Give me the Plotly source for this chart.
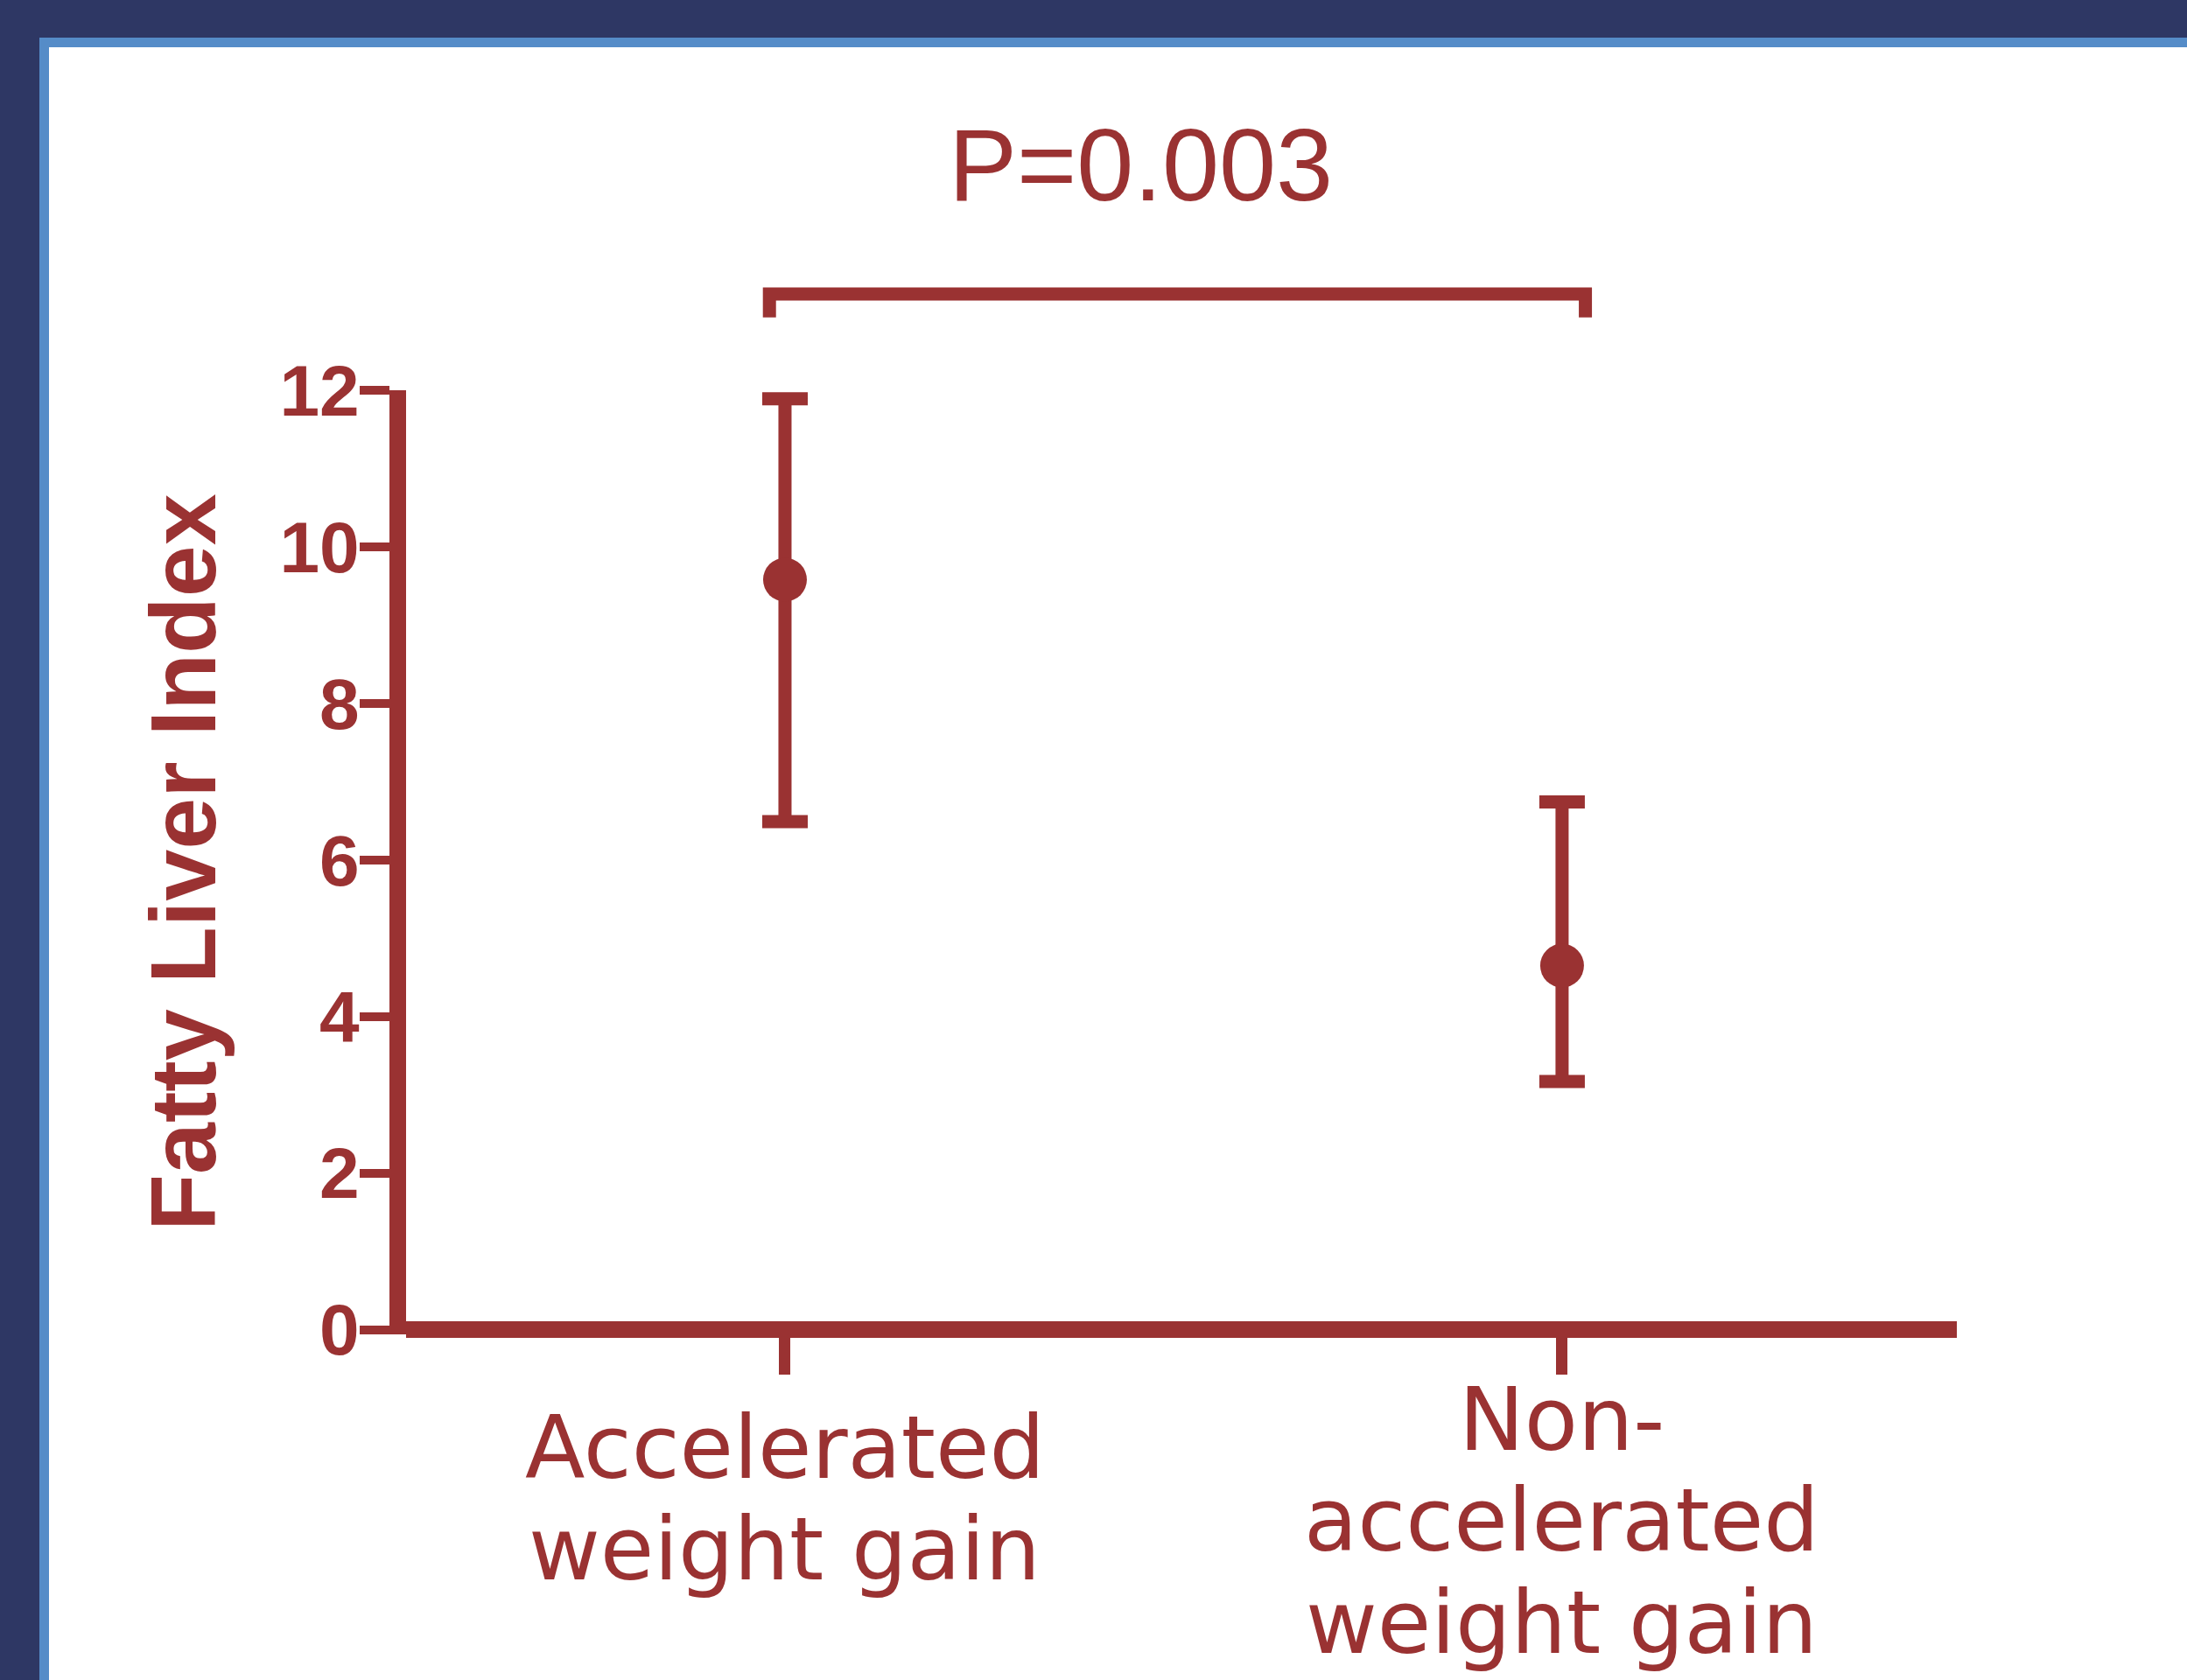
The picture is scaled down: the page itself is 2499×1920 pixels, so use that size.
import plotly.graph_objects as go

# ---- data ----
categories = ["Accelerated weight gain", "Non-accelerated weight gain"]
category_label_lines = [["Accelerated", "weight gain"], ["Non-", "accelerated", "weight gain"]]
center_values = [9.58, 4.65]
upper_values = [11.89, 6.74]
lower_values = [6.49, 3.17]
y_tick_values = [0, 2, 4, 6, 8, 10, 12]
p_label = "P=0.003"
bracket_level = 13.23
bracket_leg_end = 12.93

# ---- layout constants ----
W, H = 2499, 1920
L, R, T, B = 464, 263, 446, 395
Y_MIN, Y_MAX = -0.06, 12
X_MIN, X_MAX = -0.4876, 1.508
RED = "#9A3232"
NAVY = "#2E3764"
BLUE = "#558CC8"
LABEL_FIRST_LINE_MID = [1654, 1622]   # px (vertical centre of first label line)
LABEL_LINE_GAP = 116                  # px

PW = W - L - R
PH = H - T - B


def px_x(px):
    return (px - L) / PW


def px_y(py):
    return (H - B - py) / PH


def data_y(v):
    return (v - Y_MIN) / (Y_MAX - Y_MIN)


err_plus = [u - c for u, c in zip(upper_values, center_values)]
err_minus = [c - l for c, l in zip(center_values, lower_values)]

fig = go.Figure()
fig.add_trace(go.Scatter(
    x=categories,
    y=center_values,
    mode="markers",
    marker=dict(size=50, color=RED, symbol="circle", line=dict(width=0)),
    error_y=dict(type="data", symmetric=False, array=err_plus, arrayminus=err_minus,
                 color=RED, thickness=15, width=26),
    showlegend=False,
    cliponaxis=False,
))

shapes = [
    dict(type="rect", xref="paper", yref="paper", x0=px_x(-10), x1=px_x(W + 10), y0=px_y(H + 10), y1=px_y(-10),
         fillcolor=NAVY, line=dict(width=0), layer="below"),
    dict(type="rect", xref="paper", yref="paper", x0=px_x(45), x1=px_x(W + 10), y0=px_y(H + 10), y1=px_y(43),
         fillcolor=BLUE, line=dict(width=0), layer="below"),
    dict(type="rect", xref="paper", yref="paper", x0=px_x(56), x1=px_x(W + 10), y0=px_y(H + 10), y1=px_y(54),
         fillcolor="white", line=dict(width=0), layer="below"),
]

# significance bracket between the two groups
bx0, bx1 = -0.02, 1.03
yl, yh = data_y(bracket_leg_end), data_y(bracket_level)
shapes.append(dict(type="path", xref="x", yref="paper",
                   path=f"M {bx0},{yl} L {bx0},{yh} L {bx1},{yh} L {bx1},{yl}",
                   line=dict(color=RED, width=15), layer="above"))

annotations = [dict(text=p_label, x=0.458, xref="x", y=data_y(14.88), yref="paper",
                    showarrow=False, xanchor="center", yanchor="middle",
                    font=dict(family="Liberation Sans", size=117, color=RED))]

# category labels (one annotation per text line, under each category tick)
for cat, lines, first_mid in zip(categories, category_label_lines, LABEL_FIRST_LINE_MID):
    for j, line in enumerate(lines):
        annotations.append(dict(text=line, x=cat, xref="x",
                                y=px_y(first_mid + j * LABEL_LINE_GAP), yref="paper",
                                showarrow=False, xanchor="center", yanchor="middle",
                                font=dict(family="DejaVu Sans", size=100, color=RED)))

fig.update_layout(
    width=W, height=H,
    margin=dict(l=L, r=R, t=T, b=B, autoexpand=False),
    paper_bgcolor="white",
    plot_bgcolor="white",
    shapes=shapes,
    annotations=annotations,
)

fig.update_xaxes(
    type="category",
    range=[X_MIN, X_MAX],
    showline=False, showgrid=False, zeroline=False,
    ticks="outside", ticklen=45, tickwidth=13, tickcolor=RED,
    showticklabels=False,
)

fig.update_yaxes(
    range=[Y_MIN, Y_MAX],
    tickvals=y_tick_values,
    showline=True, linewidth=19, linecolor=RED,
    showgrid=False,
    zeroline=True, zerolinewidth=19, zerolinecolor=RED,
    ticks="outside", ticklen=34, tickwidth=10, tickcolor=RED,
    ticklabelstandoff=-16,
    tickfont=dict(family="Liberation Sans", size=82, color=RED, weight="bold"),
    title=dict(text="<b>Fatty Liver Index</b>", standoff=46,
               font=dict(family="Liberation Sans", size=106, color=RED)),
)

fig.write_html("out.html",
               config={"displayModeBar": False},
               post_script="document.body.style.margin='0';document.body.style.padding='0';")
